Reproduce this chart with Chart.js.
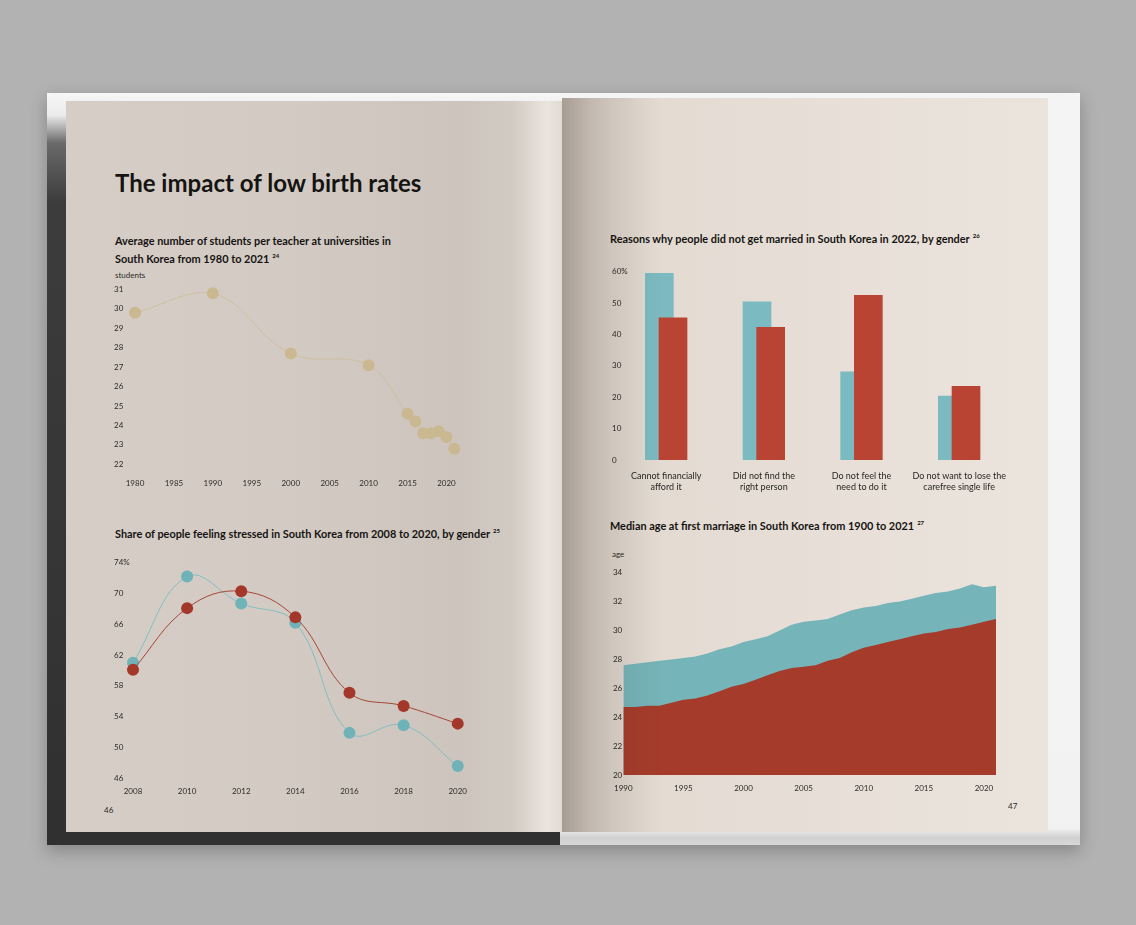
<!DOCTYPE html>
<html>
<head>
<meta charset="utf-8">
<script src="https://cdn.jsdelivr.net/npm/chart.js@4.4.0/dist/chart.umd.min.js"></script>
<style>
  html, body { margin: 0; padding: 0; }
  body { width: 1136px; height: 925px; position: relative; overflow: hidden;
         background: #b2b2b2; font-family: Lato, "Open Sans", sans-serif; color: #161412; }
  .abs { position: absolute; }
  .book-shadow { left: 47px; top: 93px; width: 1033px; height: 752px; box-shadow: 0 6px 16px rgba(0,0,0,0.25); }
  .cover-l { left: 47px; top: 93px; width: 518px; height: 752px;
             background: linear-gradient(to bottom, #f6f6f6 0, #ececec 22px, #6a6a6a 50px, #3c3c3c 110px, #303030 100%); }
  .cover-r { left: 560px; top: 93px; width: 520px; height: 752px;
             background: linear-gradient(to bottom, #f4f4f4 0, #f2f2f2 735px, #cfcfcf 745px, #d8d8d8 100%); }
  .page-l { left: 66px; top: 101px; width: 496px; height: 731px;
            background: linear-gradient(to right, #d6cdc6 0, #d3cbc3 45%, #cdc5bd 80%, #d2cbc3 90%, #e9e4dd 97%, #e0dad2 100%); }
  .page-r { left: 562px; top: 98px; width: 486px; height: 734px;
            background: linear-gradient(to right, #c3bab1 0, #d8cfc6 6%, #e3dbd2 18%, #e8e0d8 60%, #ebe4dc 100%); }
  .shade-r { left: 562px; top: 98px; width: 120px; height: 734px; z-index: 5;
             background: linear-gradient(to right, rgba(40,25,15,0.18) 0, rgba(40,25,15,0.07) 50px, rgba(40,25,15,0) 100px); }
  .title { font-weight: 700; font-size: 24px; line-height: 26px; }
  .ctitle { font-weight: 700; font-size: 10.9px; line-height: 15px; white-space: nowrap; }
  .ctitle sup { font-size: 6px; vertical-align: 5px; margin-left: 3px; }
  .unit { font-size: 8px; line-height: 10px; color: #2e2a26; }
  .box { z-index: 2; }
</style>
</head>
<body>
<div class="abs book-shadow"></div>
<div class="abs cover-l"></div>
<div class="abs cover-r"></div>
<div class="abs page-l"></div>
<div class="abs page-r"></div>

<div class="abs title" style="left:115px; top:170px;">The impact of low birth rates</div>

<div class="abs ctitle" style="left:115px; top:233px;">Average number of students per teacher at universities in<br>South Korea from 1980 to 2021<sup>24</sup></div>
<div class="abs unit" style="left:115px; top:270px;">students</div>
<div class="abs box" style="left:110px; top:280px; width:360px; height:212px;"><canvas id="students"></canvas></div>

<div class="abs ctitle" style="left:115px; top:523px;">Share of people feeling stressed in South Korea from 2008 to 2020, by gender<sup>25</sup></div>
<div class="abs box" style="left:110px; top:550px; width:365px; height:255px;"><canvas id="stress"></canvas></div>
<div class="abs unit" style="left:104px; top:805px;">46</div>

<div class="abs ctitle" style="left:610px; top:228px;">Reasons why people did not get married in South Korea in 2022, by gender<sup>26</sup></div>
<div class="abs box" style="left:605px; top:262px; width:420px; height:235px;"><canvas id="reasons"></canvas></div>

<div class="abs ctitle" style="left:610px; top:515px;">Median age at first marriage in South Korea from 1900 to 2021<sup>27</sup></div>
<div class="abs unit" style="left:612px; top:549px;">age</div>
<div class="abs box" style="left:605px; top:560px; width:405px; height:240px;"><canvas id="marriage"></canvas></div>
<div class="abs unit" style="left:1008px; top:801px;">47</div>

<div class="abs shade-r"></div>

<script>
// students per teacher at universities
const studentYears = [1980, 1990, 2000, 2010, 2015, 2016, 2017, 2018, 2019, 2020, 2021];
const studentsPerTeacher = [29.8, 30.8, 27.7, 27.1, 24.6, 24.2, 23.6, 23.6, 23.7, 23.4, 22.8];
const studentYearTicks = [1980, 1985, 1990, 1995, 2000, 2005, 2010, 2015, 2020];
const studentTicks = [22, 23, 24, 25, 26, 27, 28, 29, 30, 31];

// share of people feeling stressed
const stressYears = [2008, 2010, 2012, 2014, 2016, 2018, 2020];
const stressMen = [61.0, 72.2, 68.7, 66.2, 51.9, 52.9, 47.6];
const stressWomen = [60.1, 68.1, 70.3, 66.9, 57.1, 55.4, 53.1];
const stressTicks = [46, 50, 54, 58, 62, 66, 70, 74];

// reasons for not marrying
const reasonLabels = [
  ['Cannot financially', 'afford it'],
  ['Did not find the', 'right person'],
  ['Do not feel the', 'need to do it'],
  ['Do not want to lose the', 'carefree single life']
];
const reasonMen = [59.5, 50.4, 28.1, 20.4];
const reasonWomen = [45.3, 42.3, 52.5, 23.5];
const reasonTicks = [0, 10, 20, 30, 40, 50, 60];

// median age at first marriage
const marriageYears = [1990, 1991, 1992, 1993, 1994, 1995, 1996, 1997, 1998, 1999, 2000,
  2001, 2002, 2003, 2004, 2005, 2006, 2007, 2008, 2009, 2010,
  2011, 2012, 2013, 2014, 2015, 2016, 2017, 2018, 2019, 2020, 2021];
const marriageAgeMen = [27.6, 27.7, 27.8, 27.9, 28.0, 28.1, 28.2, 28.4, 28.7, 28.9, 29.2,
  29.4, 29.6, 30.0, 30.4, 30.6, 30.7, 30.8, 31.1, 31.4, 31.6,
  31.7, 31.9, 32.0, 32.2, 32.4, 32.6, 32.7, 32.9, 33.2, 33.0, 33.1];
const marriageAgeWomen = [24.7, 24.7, 24.8, 24.8, 25.0, 25.2, 25.3, 25.5, 25.8, 26.1, 26.3,
  26.6, 26.9, 27.2, 27.4, 27.5, 27.6, 27.9, 28.1, 28.5, 28.8,
  29.0, 29.2, 29.4, 29.6, 29.8, 29.9, 30.1, 30.2, 30.4, 30.6, 30.8];
const marriageYearTicks = [1990, 1995, 2000, 2005, 2010, 2015, 2020];
const ageTicks = [20, 22, 24, 26, 28, 30, 32, 34];

const tickColor = '#2e2a26';
const tickFont = { family: 'Lato', size: 8 };
const plain = v => String(v);

function points(xs, ys) {
  return xs.map((x, i) => ({ x: x, y: ys[i] }));
}

function axis(tickValues, extra) {
  return Object.assign({
    grid: { display: false, drawTicks: false },
    border: { display: false },
    afterBuildTicks: scale => { scale.ticks = tickValues.map(v => ({ value: v })); }
  }, extra);
}

function baseOptions(padding) {
  return {
    responsive: true,
    maintainAspectRatio: false,
    animation: false,
    layout: { padding: padding },
    plugins: { legend: { display: false }, tooltip: { enabled: false } }
  };
}

// --- students per teacher ---
const studentOpts = baseOptions({ left: 4, top: 9.3, right: 10, bottom: 1.7 });
studentOpts.scales = {
  x: axis(studentYearTicks, {
    type: 'linear', min: 1980, max: 2021,
    afterFit: s => { s.height = 26; },
    ticks: { padding: 14, font: tickFont, color: tickColor, maxRotation: 0, autoSkip: false, callback: plain }
  }),
  y: axis(studentTicks, {
    min: 22, max: 31,
    afterFit: s => { s.width = 21; },
    ticks: { crossAlign: 'far', padding: 0, font: tickFont, color: tickColor }
  })
};
new Chart(document.getElementById('students'), {
  type: 'line',
  data: {
    datasets: [{
      data: points(studentYears, studentsPerTeacher),
      borderColor: '#cdbf9f', borderWidth: 1, tension: 0.4,
      pointRadius: 6, pointBackgroundColor: '#c9b890', pointBorderWidth: 0,
      pointBorderColor: 'rgba(0,0,0,0)', clip: false
    }]
  },
  options: studentOpts
});

// --- stress by gender ---
const stressOpts = baseOptions({ left: 4, top: 12.7, right: 14.3, bottom: 8.7 });
stressOpts.scales = {
  x: axis(stressYears, {
    type: 'linear', min: 2008, max: 2020,
    afterFit: s => { s.height = 18; },
    ticks: { padding: 8, font: tickFont, color: tickColor, maxRotation: 0, autoSkip: false, callback: plain }
  }),
  y: axis(stressTicks, {
    min: 46, max: 74,
    afterFit: s => { s.width = 19; },
    ticks: {
      crossAlign: 'far', padding: 0, font: tickFont, color: tickColor,
      callback: v => v === stressTicks[stressTicks.length - 1] ? v + '%' : v
    }
  })
};
new Chart(document.getElementById('stress'), {
  type: 'line',
  data: {
    datasets: [
      {
        label: 'Men', data: points(stressYears, stressMen), order: 1,
        borderColor: '#82bec2', borderWidth: 1, tension: 0.4,
        pointRadius: 6, pointBackgroundColor: '#6fb3b8', pointBorderWidth: 0,
        pointBorderColor: 'rgba(0,0,0,0)', clip: false
      },
      {
        label: 'Women', data: points(stressYears, stressWomen), order: 0,
        borderColor: '#a54535', borderWidth: 1, tension: 0.4,
        pointRadius: 6, pointBackgroundColor: '#a2372a', pointBorderWidth: 0,
        pointBorderColor: 'rgba(0,0,0,0)', clip: false
      }
    ]
  },
  options: stressOpts
});

// --- reasons for not marrying ---
const reasonOpts = baseOptions({ left: 7, top: 9.7, right: 17, bottom: 5 });
reasonOpts.datasets = { bar: { grouped: false, barThickness: 28 } };
reasonOpts.scales = {
  x: axis(reasonLabels.map((l, i) => i), {
    type: 'linear', min: -0.35, max: 3.5, offset: false,
    afterFit: s => { s.height = 32; },
    ticks: {
      padding: 10, font: { family: 'Lato', size: 9, lineHeight: 1.25 }, color: '#2a2622',
      maxRotation: 0, autoSkip: false,
      callback: v => reasonLabels[v]
    }
  }),
  y: axis(reasonTicks, {
    min: 0, max: 60,
    afterFit: s => { s.width = 20; },
    ticks: {
      crossAlign: 'far', padding: 0, font: tickFont, color: tickColor,
      callback: v => v === reasonTicks[reasonTicks.length - 1] ? v + '%' : v
    }
  })
};
new Chart(document.getElementById('reasons'), {
  type: 'bar',
  data: {
    datasets: [
      { label: 'Men', data: reasonMen.map((v, i) => ({ x: i - 0.07, y: v })), backgroundColor: '#7bbac0', order: 1 },
      { label: 'Women', data: reasonWomen.map((v, i) => ({ x: i + 0.07, y: v })), backgroundColor: '#b94433', order: 0 }
    ]
  },
  options: reasonOpts
});

// --- median age at first marriage ---
const marriageOpts = baseOptions({ left: 7, top: 12.7, right: 14, bottom: 5 });
marriageOpts.scales = {
  x: axis(marriageYearTicks, {
    type: 'linear', min: 1990, max: 2021,
    afterFit: s => { s.height = 20; },
    ticks: { padding: 9, font: tickFont, color: tickColor, maxRotation: 0, autoSkip: false, callback: plain }
  }),
  y: axis(ageTicks, {
    min: 20, max: 34,
    afterFit: s => { s.width = 10.3; },
    ticks: { crossAlign: 'far', padding: 0, font: tickFont, color: tickColor }
  })
};
new Chart(document.getElementById('marriage'), {
  type: 'line',
  data: {
    datasets: [
      {
        label: 'Men', data: points(marriageYears, marriageAgeMen), order: 1,
        fill: 'start', backgroundColor: '#75b4b9', borderWidth: 0, pointRadius: 0, tension: 0
      },
      {
        label: 'Women', data: points(marriageYears, marriageAgeWomen), order: 0,
        fill: 'start', backgroundColor: '#a53c2b', borderWidth: 0, pointRadius: 0, tension: 0
      }
    ]
  },
  options: marriageOpts
});
</script>
</body>
</html>
